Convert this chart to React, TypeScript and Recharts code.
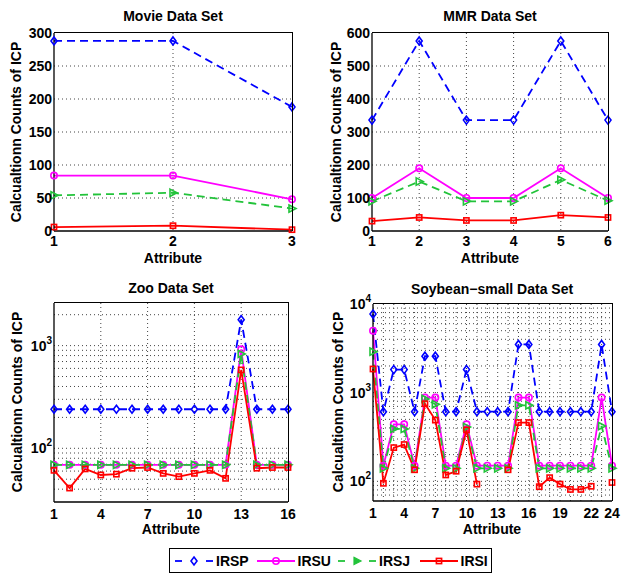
import React from "react";
import {
  CartesianGrid,
  Line,
  LineChart,
  XAxis,
  YAxis,
} from "recharts";

const W = 621;
const H = 577;
const FONT = '"Liberation Sans", Arial, Helvetica, sans-serif';

const BLUE = "#0000ff";
const MAGENTA = "#ff00ff";
const GREEN = "#22c33a";
const RED = "#ff0000";

// Movie data set
const movieX = [1, 2, 3];
const movieIRSP = [288, 288, 188];
const movieIRSU = [84, 84, 48];
const movieIRSJ = [54, 58, 34];
const movieIRSI = [6, 8, 2];

// MMR data set
const mmrX = [1, 2, 3, 4, 5, 6];
const mmrIRSP = [336, 576, 336, 336, 576, 336];
const mmrIRSU = [100, 190, 100, 100, 190, 100];
const mmrIRSJ = [90, 150, 90, 90, 155, 92];
const mmrIRSI = [30, 41, 32, 32, 48, 41];

// Zoo data set
const zooX = [1, 2, 3, 4, 5, 6, 7, 8, 9, 10, 11, 12, 13, 14, 15, 16];
const zooIRSP = [240, 240, 240, 240, 240, 240, 240, 240, 240, 240, 240, 240, 1790, 240, 240, 240];
const zooIRSU = [69, 69, 69, 69, 69, 69, 69, 69, 69, 69, 69, 69, 920, 69, 69, 69];
const zooIRSJ = [69, 69, 69, 69, 69, 69, 69, 69, 69, 69, 69, 69, 830, 69, 69, 69];
const zooIRSI = [61, 41, 63, 55, 56, 64, 65, 57, 53, 57, 61, 51, 580, 64, 65, 65];

// Soybean-small data set
const soyX = [1, 2, 3, 4, 5, 6, 7, 8, 9, 10, 11, 12, 13, 14, 15, 16, 17, 18, 19, 20, 21, 22, 23, 24];
const soyIRSP = [7700, 610, 1820, 1820, 610, 2580, 2580, 610, 610, 1820, 610, 610, 610, 610, 3500, 3500, 610, 610, 610, 610, 610, 610, 3500, 610];
const soyIRSU = [5000, 150, 440, 440, 150, 880, 880, 150, 150, 440, 150, 150, 150, 150, 880, 880, 150, 150, 150, 150, 150, 150, 880, 150];
const soyIRSJ = [2900, 140, 390, 390, 140, 850, 740, 140, 140, 410, 140, 140, 140, 140, 720, 720, 140, 140, 140, 140, 140, 140, 420, 140];
const soyIRSI = [1850, 95, 240, 260, 135, 750, 490, 118, 130, 380, 93, null, null, 135, 460, 460, 87, 110, 93, 81, 81, 88, null, 97];

const titles = ["Movie Data Set", "MMR Data Set", "Zoo Data Set", "Soybean\u2212small Data Set"];
const legendNames = ["IRSP", "IRSU", "IRSJ", "IRSI"];

type Row = { x: number; p: number; u: number; j: number; i: number | null };

function rows(x: number[], p: number[], u: number[], j: number[], i: (number | null)[]): Row[] {
  return x.map((v, k) => ({ x: v, p: p[k], u: u[k], j: j[k], i: i[k] }));
}

function logMinor(lo: number, hi: number) {
  const out: number[] = [];
  for (let d = 1; d <= 10000; d *= 10) {
    for (let m = 1; m < 10; m++) {
      const v = m * d;
      if (v > lo && v < hi) out.push(v);
    }
  }
  return out;
}

function marker(shape: string, color: string) {
  return (p: any) => {
    const { cx, cy, index } = p;
    if (cx == null || cy == null || isNaN(cy) || p.value == null) return <g key={"n" + index} />;
    const s = { fill: "none", stroke: color, strokeWidth: 1.6 };
    if (shape === "diamond")
      return <path key={index} d={`M${cx},${cy - 4}L${cx + 3},${cy}L${cx},${cy + 4}L${cx - 3},${cy}Z`} {...s} />;
    if (shape === "circle") return <circle key={index} cx={cx} cy={cy} r={3.2} {...s} />;
    if (shape === "tri")
      return <path key={index} d={`M${cx - 3},${cy - 3.6}L${cx + 4},${cy}L${cx - 3},${cy + 3.6}Z`} {...s} />;
    return <rect key={index} x={cx - 2.6} y={cy - 2.6} width={5.2} height={5.2} {...s} />;
  };
}

const LogTick = (p: any) => {
  const { x, y, payload } = p;
  const e = Math.round(Math.log10(payload.value));
  return (
    <text x={x} y={y} textAnchor="end" fontFamily={FONT} fontWeight="bold" fontSize={14} fill="#000">
      <tspan dy="0.355em">10</tspan>
      <tspan dy={-7} fontSize={10}>{e}</tspan>
    </text>
  );
};

const YW = 40;
const XH = 30;

// quadrant: where the chart sits on the page; box: plot area in page coordinates
type Quad = { x: number; y: number; w: number; h: number };
type Box = { l: number; t: number; r: number; b: number };

type PanelProps = {
  data: Row[];
  quad: Quad;
  box: Box;
  xDomain: [number, number];
  xTicks: number[];
  yDomain: [number, number];
  yTicks: number[];
  log?: boolean;
  gridX: number[];
  gridY: number[];
  xTickMargin: number;
};

function Panel({ data, quad, box, xDomain, xTicks, yDomain, yTicks, log, gridX, gridY, xTickMargin }: PanelProps) {
  const axisStyle = { fontFamily: FONT, fontWeight: "bold", fontSize: 14, fill: "#000" };
  const frame = { stroke: "#000", strokeWidth: 1.3 };
  const yScale = log ? { scale: "log" as const } : {};
  return (
    <div style={{ position: "absolute", left: quad.x, top: quad.y, width: quad.w, height: quad.h }}>
      <LineChart
        width={quad.w}
        height={quad.h}
        data={data}
        margin={{
          top: box.t - quad.y,
          left: box.l - quad.x - YW,
          right: quad.x + quad.w - box.r,
          bottom: quad.y + quad.h - box.b - XH,
        }}
      >
        <CartesianGrid
          stroke="#444"
          strokeDasharray="1 3"
          horizontalValues={gridY}
          verticalValues={gridX}
        />
        <XAxis
          type="number"
          dataKey="x"
          domain={xDomain}
          ticks={xTicks}
          interval={0}
          height={XH}
          tickSize={4}
          tickMargin={xTickMargin}
          axisLine={frame}
          tickLine={false}
          tick={axisStyle}
        />
        <YAxis
          type="number"
          {...yScale}
          domain={yDomain}
          ticks={yTicks}
          interval={0}
          width={YW}
          tickSize={2}
          tickMargin={0}
          axisLine={frame}
          tickLine={false}
          tick={log ? LogTick : axisStyle}
        />
        <Line dataKey="p" stroke={BLUE} strokeWidth={1.8} strokeDasharray="8 5" dot={marker("diamond", BLUE)} isAnimationActive={false} />
        <Line dataKey="u" stroke={MAGENTA} strokeWidth={1.8} dot={marker("circle", MAGENTA)} isAnimationActive={false} />
        <Line dataKey="j" stroke={GREEN} strokeWidth={1.8} strokeDasharray="8 5" dot={marker("tri", GREEN)} isAnimationActive={false} />
        <Line dataKey="i" stroke={RED} strokeWidth={1.8} dot={marker("square", RED)} isAnimationActive={false} />
      </LineChart>
    </div>
  );
}

function Frame({ box }: { box: Box }) {
  return (
    <div
      style={{
        position: "absolute",
        left: box.l,
        top: box.t - 1,
        width: box.r - box.l + 1,
        height: box.b - box.t + 1,
        boxSizing: "border-box",
        borderTop: "1px solid #000",
        borderRight: "1px solid #000",
        pointerEvents: "none",
      }}
    />
  );
}

function Txt({ x, y, text, rotate }: { x: number; y: number; text: string; rotate?: boolean }) {
  return (
    <div
      style={{
        position: "absolute",
        left: x,
        top: y,
        transform: `translate(-50%, -50%)${rotate ? " rotate(-90deg)" : ""}`,
        whiteSpace: "nowrap",
        fontFamily: FONT,
        fontWeight: "bold",
        fontSize: 14,
        lineHeight: "16px",
        color: "#000",
      }}
    >
      {text}
    </div>
  );
}

function Sample({ color, dashed, shape }: { color: string; dashed: boolean; shape: string }) {
  const cy = 6;
  const cx = 19;
  const s = { fill: "none", stroke: color, strokeWidth: 1.6 };
  let m: React.ReactNode;
  if (shape === "diamond") m = <path d={`M${cx},${cy - 4}L${cx + 3},${cy}L${cx},${cy + 4}L${cx - 3},${cy}Z`} {...s} />;
  else if (shape === "circle") m = <circle cx={cx} cy={cy} r={3.2} {...s} />;
  else if (shape === "tri") m = <path d={`M${cx - 3},${cy - 3.6}L${cx + 4},${cy}L${cx - 3},${cy + 3.6}Z`} fill={color} stroke={color} strokeWidth={1.2} />;
  else m = <rect x={cx - 2.6} y={cy - 2.6} width={5.2} height={5.2} {...s} />;
  return (
    <svg width={38} height={12} style={{ display: "block" }}>
      {dashed ? (
        <>
          <line x1={0} y1={cy} x2={7} y2={cy} stroke={color} strokeWidth={1.8} />
          <line x1={31} y1={cy} x2={38} y2={cy} stroke={color} strokeWidth={1.8} />
        </>
      ) : (
        <line x1={0} y1={cy} x2={38} y2={cy} stroke={color} strokeWidth={1.8} />
      )}
      {m}
    </svg>
  );
}

const boxes: Box[] = [
  { l: 54, t: 33, r: 292, b: 231 },
  { l: 372, t: 33, r: 608, b: 231 },
  { l: 54, t: 303, r: 288, b: 502 },
  { l: 373, t: 304, r: 612, b: 501 },
];

export default function App() {
  const movie = rows(movieX, movieIRSP, movieIRSU, movieIRSJ, movieIRSI);
  const mmr = rows(mmrX, mmrIRSP, mmrIRSU, mmrIRSJ, mmrIRSI);
  const zoo = rows(zooX, zooIRSP, zooIRSU, zooIRSJ, zooIRSI);
  const soy = rows(soyX, soyIRSP, soyIRSU, soyIRSJ, soyIRSI);

  const legend = [
    { color: BLUE, dashed: true, shape: "diamond" },
    { color: MAGENTA, dashed: false, shape: "circle" },
    { color: GREEN, dashed: true, shape: "tri" },
    { color: RED, dashed: false, shape: "square" },
  ];

  return (
    <div style={{ position: "absolute", left: 0, top: 0, width: W, height: H, background: "#fff" }}>
      <Panel
        data={movie}
        quad={{ x: 0, y: 0, w: 310, h: 275 }}
        box={boxes[0]}
        xDomain={[1, 3]}
        xTicks={[1, 2, 3]}
        yDomain={[0, 300]}
        yTicks={[0, 50, 100, 150, 200, 250, 300]}
        gridX={[2]}
        gridY={[50, 100, 150, 200, 250]}
        xTickMargin={1}
      />
      <Panel
        data={mmr}
        quad={{ x: 310, y: 0, w: 311, h: 275 }}
        box={boxes[1]}
        xDomain={[1, 6]}
        xTicks={[1, 2, 3, 4, 5, 6]}
        yDomain={[0, 600]}
        yTicks={[0, 100, 200, 300, 400, 500, 600]}
        gridX={[2, 3, 4, 5]}
        gridY={[100, 200, 300, 400, 500]}
        xTickMargin={1}
      />
      <Panel
        data={zoo}
        quad={{ x: 0, y: 275, w: 310, h: 265 }}
        box={boxes[2]}
        xDomain={[1, 16]}
        xTicks={[1, 4, 7, 10, 13, 16]}
        yDomain={[30, 2600]}
        yTicks={[100, 1000]}
        log
        gridX={[4, 7, 10, 13]}
        gridY={logMinor(30, 2600)}
        xTickMargin={3}
      />
      <Panel
        data={soy}
        quad={{ x: 310, y: 275, w: 311, h: 265 }}
        box={boxes[3]}
        xDomain={[1, 24]}
        xTicks={[1, 4, 7, 10, 13, 16, 19, 22, 24]}
        yDomain={[60, 10000]}
        yTicks={[100, 1000, 10000]}
        log
        gridX={soyX.slice(1, 23)}
        gridY={logMinor(60, 10000)}
        xTickMargin={3}
      />

      <Txt x={173} y={16} text={titles[0]} />
      <Txt x={490} y={16} text={titles[1]} />
      <Txt x={171} y={288} text={titles[2]} />
      <Txt x={492} y={289} text={titles[3]} />

      <Txt x={173} y={258} text="Attribute" />
      <Txt x={490} y={258} text="Attribute" />
      <Txt x={171} y={529} text="Attribute" />
      <Txt x={492} y={529} text="Attribute" />

      <Txt x={16} y={132} text="Calcualtionn Counts of ICP" rotate />
      <Txt x={336} y={132} text="Calcualtionn Counts of ICP" rotate />
      <Txt x={17} y={402} text="Calcualtionn Counts of ICP" rotate />
      <Txt x={338} y={402} text="Calcualtionn Counts of ICP" rotate />

      <div
        style={{
          position: "absolute",
          left: 169,
          top: 548,
          width: 323,
          height: 25,
          boxSizing: "border-box",
          border: "1px solid #000",
          background: "#fff",
        }}
      >
        {legend.map((l, k) => (
          <div
            key={legendNames[k]}
            style={{
              position: "absolute",
              left: 5 + k * 81.5,
              top: 0,
              height: 23,
              display: "flex",
              alignItems: "center",
              gap: 3,
              fontFamily: FONT,
              fontWeight: "bold",
              fontSize: 14,
            }}
          >
            <Sample color={l.color} dashed={l.dashed} shape={l.shape} />
            <span>{legendNames[k]}</span>
          </div>
        ))}
      </div>

      {boxes.map((b, k) => (
        <Frame key={k} box={b} />
      ))}
    </div>
  );
}
